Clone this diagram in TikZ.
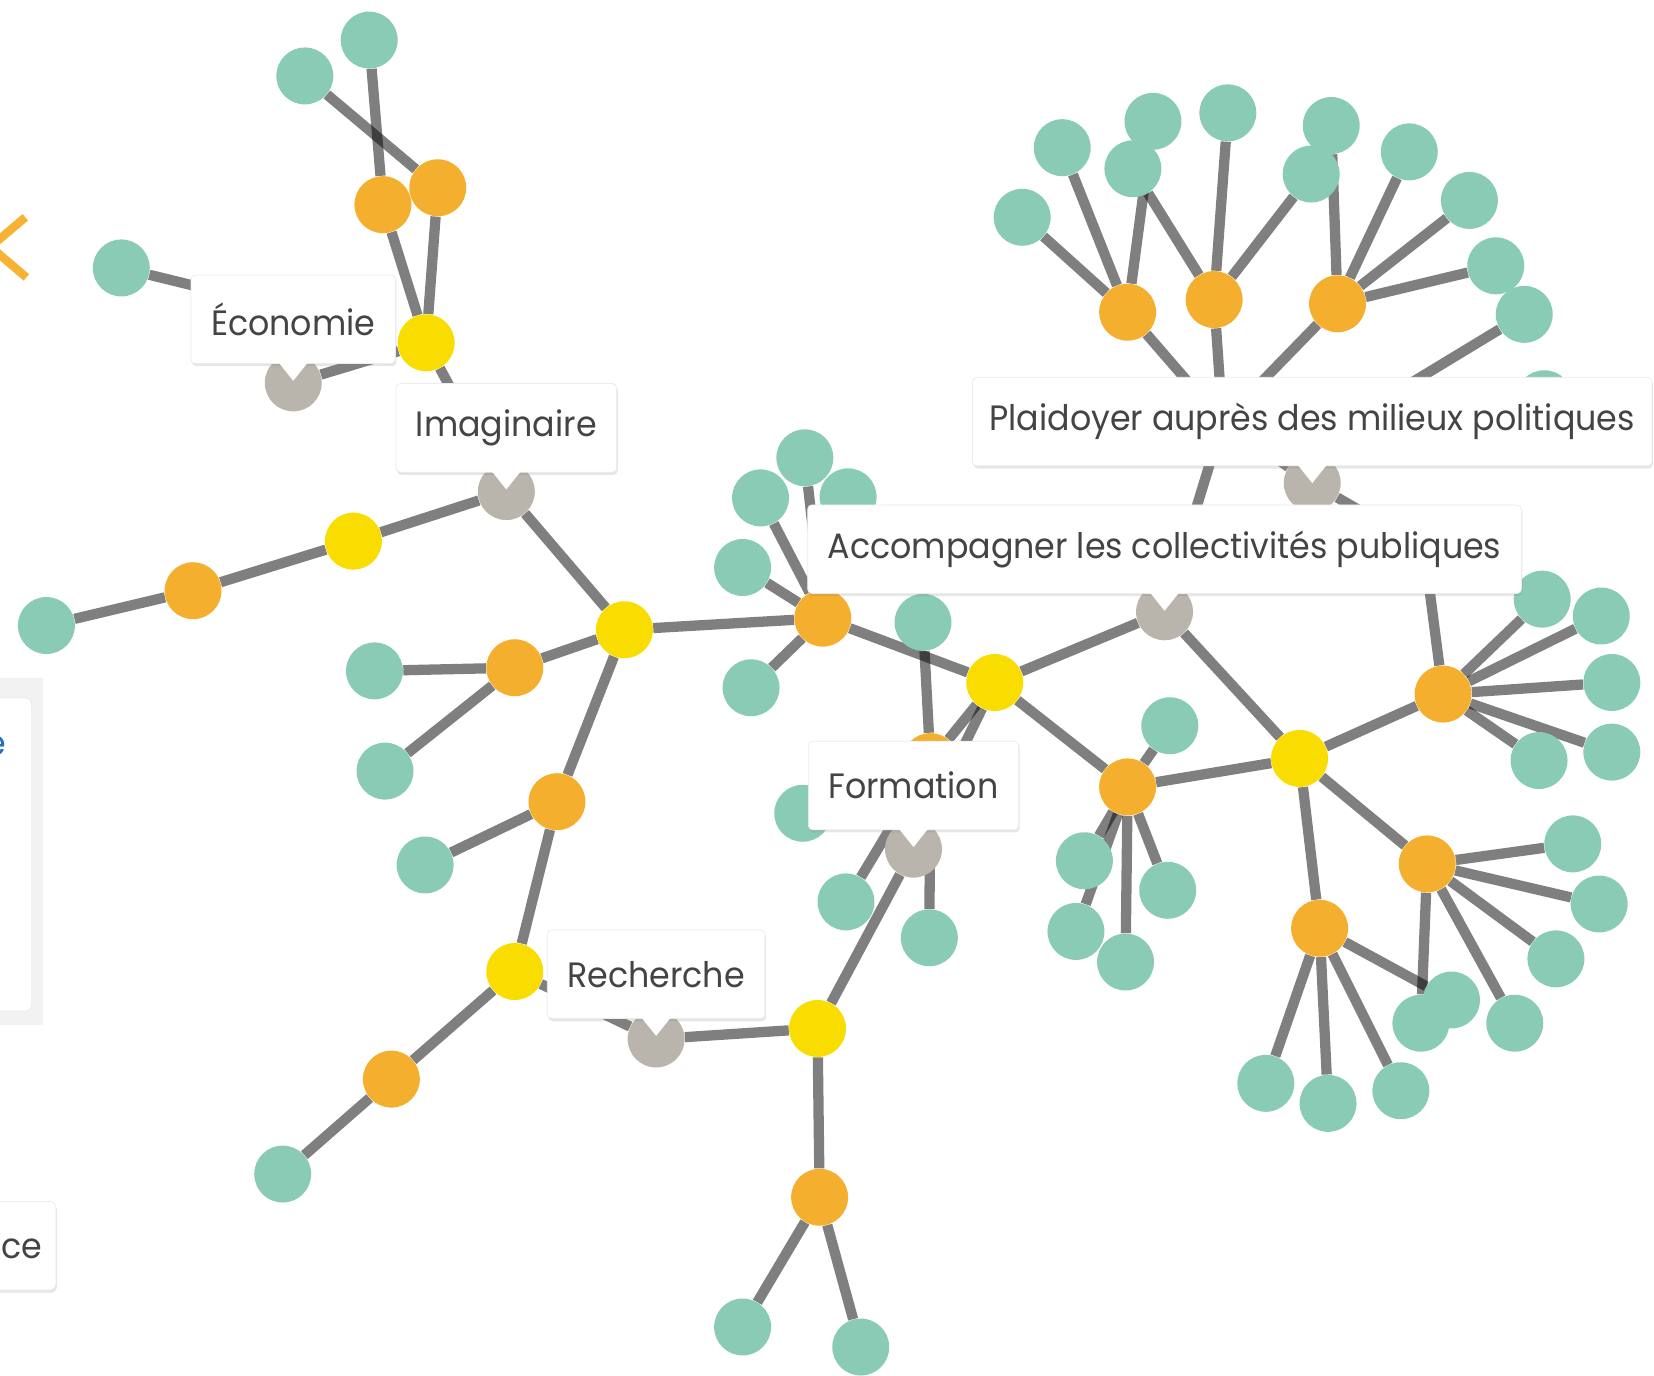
\documentclass[tikz,border=0pt]{standalone}
\usepackage{fontspec}
\newfontfamily\labelfont[FakeStretch=0.945]{Poppins}
\usetikzlibrary{positioning,shadows}
\definecolor{leafgreen}{RGB}{137,203,181}
\definecolor{twigorange}{RGB}{245,175,46}
\definecolor{forkyellow}{RGB}{249,221,0}
\definecolor{hubgray}{RGB}{186,181,172}
\definecolor{labeltext}{RGB}{68,68,68}
\definecolor{chevron}{RGB}{247,178,51}
\definecolor{linkblue}{RGB}{40,110,190}
\pgfdeclarelayer{edges}
\pgfsetlayers{edges,main}

\begin{document}
\begin{tikzpicture}[x=0.2mm,y=-0.2mm,
    disc/.style={circle,inner sep=0pt,minimum size=10.8mm},
    leaf/.style={disc,fill=leafgreen},
    twig/.style={disc,fill=twigorange},
    fork/.style={disc,fill=forkyellow},
    hub/.style={disc,fill=hubgray},
    link/.style={draw=black,draw opacity=0.5,line width=1.95mm},
    bubble/.style={fill=white,draw=black!8,rounded corners=0.8mm,inner xsep=3.8mm,
        minimum height=16.8mm,font=\labelfont\fontsize{19}{22}\selectfont,text=labeltext,
        drop shadow={shadow xshift=0.2mm,shadow yshift=-0.5mm,opacity=0.2}}]
    \useasboundingbox (0,0) rectangle (1568,1304);
    \clip (0,0) rectangle (1568,1304);
    % yellow forks, y8 and y9 sit under the labels
    \foreach \n/\x/\y in {y1/404/325,y2/335/513,y3/592/597,y4/488/921,y5/775/975,
        y6/943/647,y7/1232/719,y8/1159/400,y9/1350/519}
        \node[fork] (\n) at (\x,\y) {};
    % gray hubs carrying the labels
    \foreach \n/\x/\y in {eco/278/363,imag/480/466,plaid/1244/458,acc/1104/580,
        form/866/805,rech/622/985}
        \node[hub] (\n) at (\x,\y) {};
    % orange twigs
    \foreach \n/\x/\y in {o1/363/194,o2/415/178,o3/254/288,o4/183/560,o5/488/633,
        o6/528/760,o7/371/1023,o8/777/1135,o9/882/722,o10/780/586,o11/1069/746,
        o12/1368/658,o13/1353/819,o14/1251/880,o15/1069/296,o16/1151/284,
        o17/1268/288,o18/1285/395}
        \node[twig] (\n) at (\x,\y) {};
    % green leaves
    \foreach \n/\x/\y in {g1/350/38,g2/289/72,g3/115/254,g4/44/593,g5/355/636,
        g6/365/731,g7/403/820,g8/268/1113,g9/704/1258,g10/816/1277,g11/802/855,
        g12/881/889,g13/761/771,g14/875/590,g15/763/434,g16/721/472,g17/804/471,
        g18/704/538,g19/712/652,g20/1109/688,g21/1028/816,g22/1020/883,g23/1067/912,
        g24/1107/844,g25/1462/568,g26/1518/584,g27/1528/647,g28/1528/713,
        g29/1459/721,g30/1491/800,g31/1516/857,g32/1475/909,g33/1436/970,
        g34/1347/970,g35/1376/948,g36/1200/1027,g37/1259/1046,g38/1328/1034,
        g39/969/206,g40/1007/140,g41/1093/115,g42/1074/160,g43/1164/107,
        g44/1243/165,g45/1262/119,g46/1336/144,g47/1393/190,g48/1418/252,
        g49/1445/298,g50/1464/378}
        \node[leaf] (\n) at (\x,\y) {};
    \begin{pgfonlayer}{edges}
    \foreach \a/\b in {g1/o1,g2/o2,o1/y1,o2/y1,y1/eco,y1/imag,g3/o3,o3/eco,
        imag/y2,y2/o4,o4/g4,imag/y3,y3/o5,o5/g5,o5/g6,y3/o6,o6/g7,o6/y4,y4/o7,
        o7/g8,y4/rech,rech/y5,y5/o8,o8/g9,o8/g10,y5/form,form/y6,y6/o9,o9/g11,
        o9/g12,o9/g13,o9/g14,y3/o10,o10/g15,o10/g16,o10/g17,o10/g18,o10/g19,
        o10/y6,y6/acc,y6/o11,o11/g20,o11/g21,o11/g22,o11/g23,o11/g24,o11/y7,
        acc/y7,acc/y8,y8/o15,y8/o16,y8/o17,y8/o18,y8/plaid,plaid/y9,y9/o12,
        o15/g39,o15/g40,o15/g41,o16/g42,o16/g43,o16/g44,o17/g45,o17/g46,
        o17/g47,o17/g48,o18/g49,o18/g50,y7/o12,o12/g25,o12/g26,o12/g27,
        o12/g28,o12/g29,y7/o13,o13/g30,o13/g31,o13/g32,o13/g33,o13/g34,
        y7/o14,o14/g35,o14/g36,o14/g37,o14/g38}
        \draw[link] (\a) -- (\b);
    \end{pgfonlayer}
    % labels above their hubs
    \node[bubble,above=3.6mm of eco.center] (leco) {Économie};
    \node[bubble,above=3.6mm of imag.center] (limag) {Imaginaire};
    \node[bubble,inner xsep=3.2mm,above=3.2mm of plaid.center] (lplaid) {Plaidoyer auprès des milieux politiques};
    \node[bubble,above=3.4mm of acc.center] (lacc) {Accompagner les collectivités publiques};
    \node[bubble,above=3.6mm of form.center] (lform) {Formation};
    \node[bubble,above=3.8mm of rech.center] (lrech) {Recherche};
    \foreach \l in {leco,limag,lplaid,lacc,lform,lrech}
        \fill[white] ([xshift=-2.8mm,yshift=0.3mm]\l.south) -- ([xshift=2.8mm,yshift=0.3mm]\l.south)
            -- ([yshift=-3.2mm]\l.south) -- cycle;
    % cut-off pieces at the left edge
    \draw[chevron,line width=1.6mm] (24,206) -- (-9,234) -- (25,263);
    \fill[black!5] (-40,643) rectangle (41,972);
    \node[fill=white,draw=black!8,rounded corners=1.2mm,minimum width=18mm,minimum height=59.4mm]
        (panel) at (-15,810) {};
    \node[anchor=east,inner sep=0pt,font=\labelfont\fontsize{19}{22}\selectfont,text=linkblue]
        (pe) at (6,707) {e};
    \node[fill=white,draw=black!8,rounded corners=1.2mm,minimum width=22.6mm,minimum height=16.8mm,
        drop shadow={shadow xshift=0.2mm,shadow yshift=-0.5mm,opacity=0.2}] (cebox) at (-3.5,1181) {};
    \node[anchor=base west,inner sep=0pt,font=\labelfont\fontsize{19}{22}\selectfont,text=labeltext]
        (ce) at (1,1193) {ce};
\end{tikzpicture}
\end{document}
